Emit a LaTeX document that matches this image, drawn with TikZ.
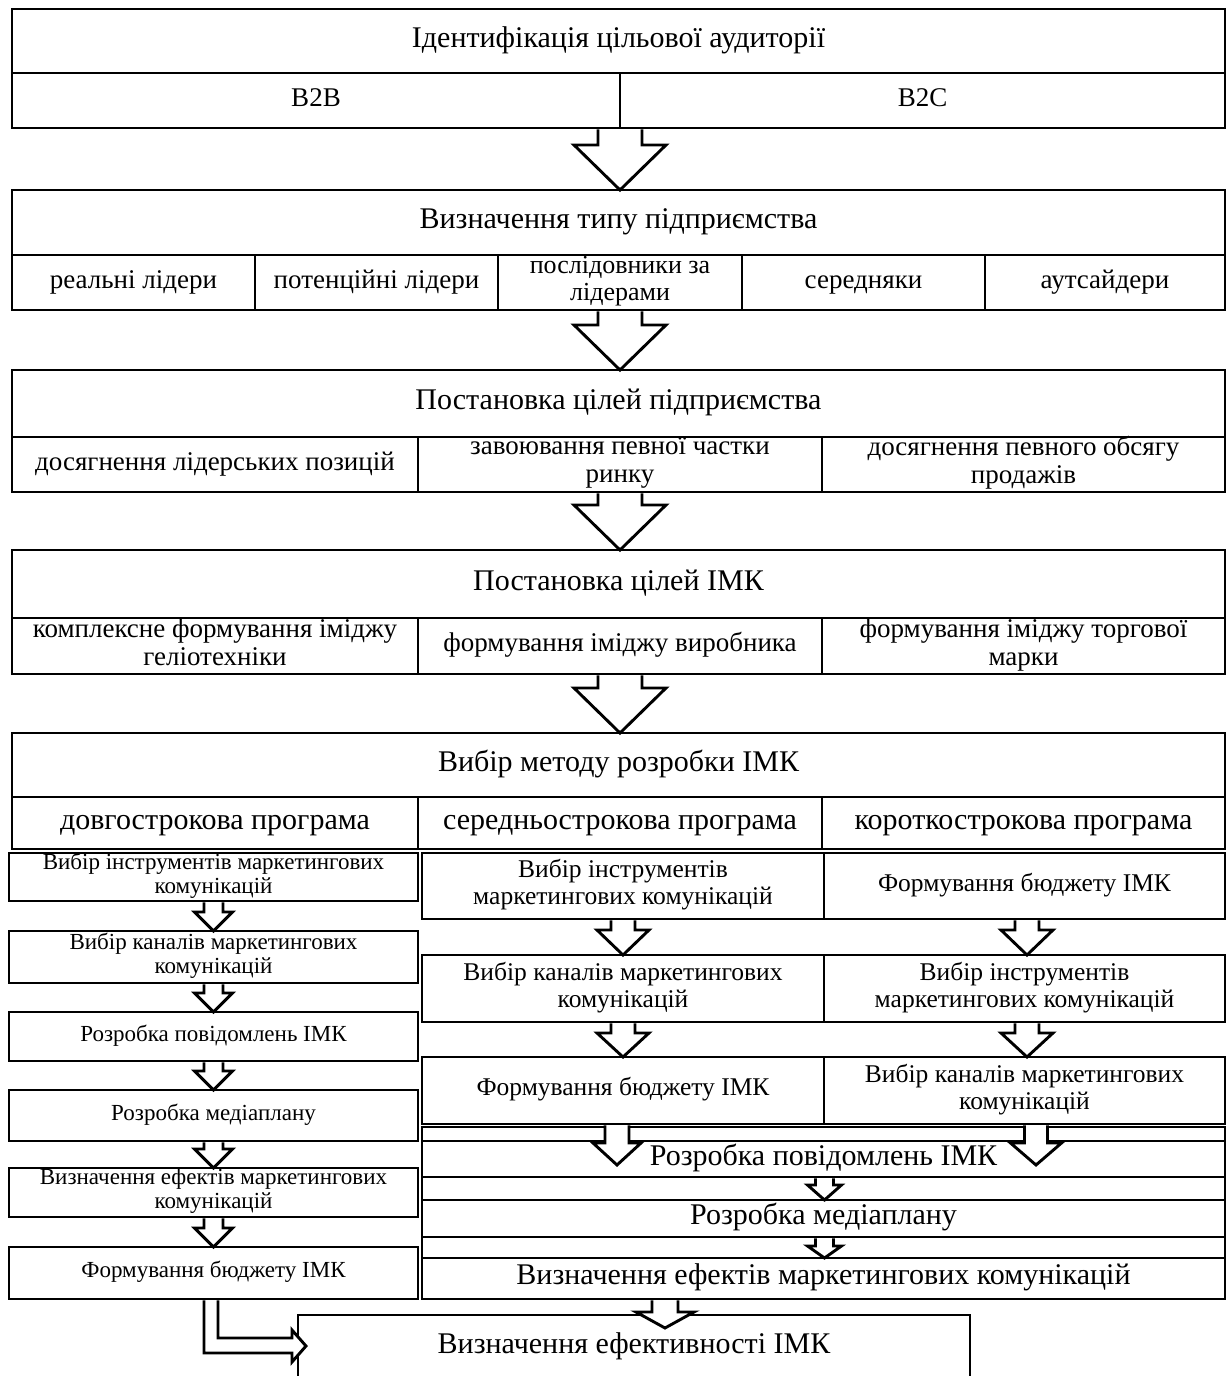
\documentclass[tikz,border=0pt]{standalone}
\usepackage{fontspec}
\setmainfont{Liberation Serif}
\usetikzlibrary{calc}
\tikzset{
 cellbox/.style={draw, line width=2.9pt, inner sep=0pt, outer sep=0pt},
 arr/.style={draw, fill=white, line width=2.9pt, line join=miter},
 txt/.style={align=center, inner sep=0pt, execute at begin node={\strut}, execute at end node={\strut}},
 fT/.style={font=\fontsize{30}{32}\selectfont},
 fC/.style={font=\fontsize{27}{28}\selectfont},
 fC2/.style={font=\fontsize{26}{27}\selectfont},
 fM/.style={font=\fontsize{25.5}{27}\selectfont},
 fL/.style={font=\fontsize{23}{24}\selectfont},
 fS/.style={font=\fontsize{30}{31}\selectfont},
}
% name, x1, y1, x2, y2, style, text
\newcommand\cell[7]{%
 \node[cellbox, minimum width={(#4-#2)*1pt}, minimum height={(#5-#3)*1pt}] (#1) at ({(#2+#4)/2},{(#3+#5)/2}) {};
 \node[txt,#6] (#1t) at (#1.center) {#7};
}
% src, dst, x, shaft half, head half, head length, tip offset
\newcommand\barrow[7]{%
 \draw[arr] let \p1=(#1.south), \p2=(#2.north) in
 ({#3-#4},{\y1-1.4}) -- ({#3-#4},{\y2-#7+#6}) -- ({#3-#5},{\y2-#7+#6}) -- (#3,{\y2-#7})
 -- ({#3+#5},{\y2-#7+#6}) -- ({#3+#4},{\y2-#7+#6}) -- ({#3+#4},{\y1-1.4});
}
\begin{document}
\begin{tikzpicture}[x=1pt,y=-1pt]
\useasboundingbox (0,0) rectangle (1227,1376);
% block 1
\cell{t1}{12}{9}{1225}{73}{fT}{Ідентифікація цільової аудиторії}
\cell{b2b}{12}{73}{620}{128}{fC}{B2B}
\cell{b2c}{620}{73}{1225}{128}{fC}{B2C}
% block 2
\cell{t2}{12}{190}{1225}{255}{fT}{Визначення типу підприємства}
\cell{c21}{12}{255}{255}{310}{fC}{реальні лідери}
\cell{c22}{255}{255}{498}{310}{fC}{потенційні лідери}
\cell{c23}{498}{255}{742}{310}{fC2}{послідовники за\\лідерами}
\cell{c24}{742}{255}{985}{310}{fC}{середняки}
\cell{c25}{985}{255}{1225}{310}{fC}{аутсайдери}
% block 3
\cell{t3}{12}{370}{1225}{437}{fT}{Постановка цілей підприємства}
\cell{c31}{12}{437}{418}{492}{fC}{досягнення лідерських позицій}
\cell{c32}{418}{437}{822}{492}{fC}{завоювання певної частки\\ринку}
\cell{c33}{822}{437}{1225}{492}{fC}{досягнення певного обсягу\\продажів}
% block 4
\cell{t4}{12}{550}{1225}{618}{fT}{Постановка цілей ІМК}
\cell{c41}{12}{618}{418}{674}{fC}{комплексне формування іміджу\\геліотехніки}
\cell{c42}{418}{618}{822}{674}{fC}{формування іміджу виробника}
\cell{c43}{822}{618}{1225}{674}{fC}{формування іміджу торгової\\марки}
% block 5
\cell{t5}{12}{733}{1225}{797}{fT}{Вибір методу розробки ІМК}
\cell{c51}{12}{797}{418}{849}{fT}{довгострокова програма}
\cell{c52}{418}{797}{822}{849}{fT}{середньострокова програма}
\cell{c53}{822}{797}{1225}{849}{fT}{короткострокова програма}
% left column
\cell{L1}{9}{853}{418}{901}{fL}{Вибір інструментів  маркетингових\\комунікацій}
\cell{L2}{9}{931}{418}{983}{fL}{Вибір каналів  маркетингових\\комунікацій}
\cell{L3}{9}{1012}{418}{1061}{fL}{Розробка повідомлень ІМК}
\cell{L4}{9}{1090}{418}{1141}{fL}{Розробка медіаплану}
\cell{L5}{9}{1168}{418}{1217}{fL}{Визначення ефектів  маркетингових\\комунікацій}
\cell{L6}{9}{1247}{418}{1299}{fL}{Формування бюджету ІМК}
% middle and right columns
\cell{M1}{422}{853}{824}{919}{fM}{Вибір інструментів\\маркетингових комунікацій}
\cell{R1}{824}{853}{1225}{919}{fM}{Формування бюджету ІМК}
\cell{M2}{422}{955}{824}{1022}{fM}{Вибір каналів маркетингових\\комунікацій}
\cell{R2}{824}{955}{1225}{1022}{fM}{Вибір інструментів\\маркетингових комунікацій}
\cell{M3}{422}{1057}{824}{1124}{fM}{Формування бюджету ІМК}
\cell{R3}{824}{1057}{1225}{1124}{fM}{Вибір каналів маркетингових\\комунікацій}
% lower strips
\cell{S1}{422}{1127}{1225}{1141}{fS}{}
\cell{P}{422}{1141}{1225}{1177}{fS}{Розробка повідомлень ІМК}
\cell{S2}{422}{1177}{1225}{1200}{fS}{}
\cell{Med}{422}{1200}{1225}{1237}{fS}{Розробка медіаплану}
\cell{S3}{422}{1237}{1225}{1258}{fS}{}
\cell{V}{422}{1258}{1225}{1299}{fS}{Визначення ефектів маркетингових комунікацій}
\cell{fin}{298}{1315}{970}{1380}{fS}{Визначення ефективності ІМК}
% main arrows
\barrow{b2b}{t2}{620}{22}{46}{45}{0}
\barrow{c23}{t3}{620}{22}{46}{45}{0}
\barrow{c32}{t4}{620}{22}{46}{45}{0}
\barrow{c42}{t5}{620}{22}{46}{45}{0}
% left column arrows
\barrow{L1}{L2}{213.5}{9.5}{19}{19}{0}
\barrow{L2}{L3}{213.5}{9.5}{19}{19}{0}
\barrow{L3}{L4}{213.5}{9.5}{19}{19}{0}
\barrow{L4}{L5}{213.5}{9.5}{19}{19}{0}
\barrow{L5}{L6}{213.5}{9.5}{19}{19}{0}
% middle / right arrows
\barrow{M1}{M2}{623}{12}{26}{25}{0}
\barrow{R1}{R2}{1027}{12}{26}{25}{0}
\barrow{M2}{M3}{623}{12}{26}{24}{0}
\barrow{R2}{R3}{1027}{12}{26}{24}{0}
\barrow{M3}{P}{617}{12}{24}{22}{24}
\barrow{R3}{P}{1036}{11.5}{25.5}{22}{24}
\barrow{P}{Med}{824.5}{9}{17}{15}{0}
\barrow{Med}{V}{824.5}{9}{17}{12}{0}
\barrow{V}{fin}{665}{13}{29}{16}{13}
% bent arrow
\draw[arr] let \p1=(L6.south), \p2=(fin.west) in
 (204,{\y1-1.4}) -- (204,1353) -- (292,1353) -- (292,1362) -- ({\x2+8},1346)
 -- (292,1330) -- (292,1338) -- (218,1338) -- (218,{\y1-1.4});
\end{tikzpicture}
\end{document}
